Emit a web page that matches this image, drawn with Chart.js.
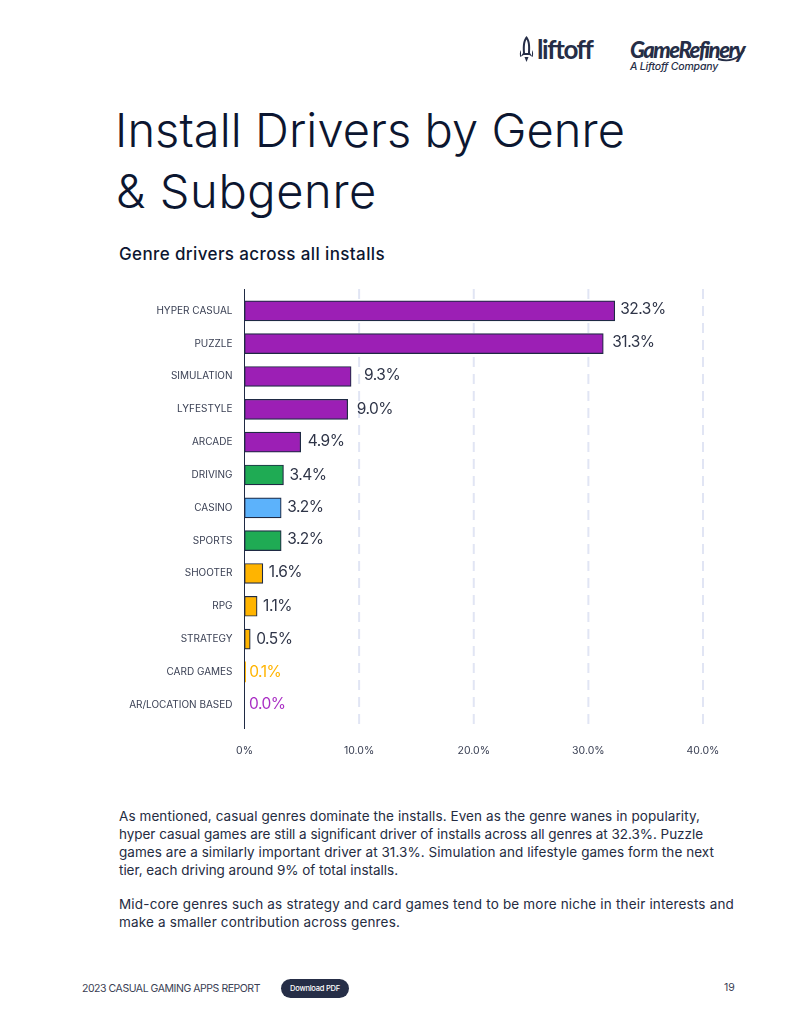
<!DOCTYPE html>
<html>
<head>
<meta charset="utf-8">
<script src="https://cdn.jsdelivr.net/npm/chart.js@4/dist/chart.umd.min.js"></script>
<style>
  html, body { margin: 0; padding: 0; background: #fff; }
  body { width: 800px; height: 1035px; position: relative; overflow: hidden; font-family: Inter, "Noto Sans", sans-serif; color: #252c42; }
  .t { position: absolute; white-space: pre; line-height: 1; }
  #wrap { position: absolute; left: 0; top: 280px; width: 800px; height: 490px; }
  #pill { position: absolute; left: 281px; top: 979px; width: 68px; height: 19px; border-radius: 10px; background: #262e47; }
</style>
</head>
<body>
  <!-- Brand marks in the page header -->
  <svg style="position:absolute;left:518px;top:34px" width="20" height="30" viewBox="0 0 20 30">
    <path d="M8.5 2 C5 6 4.4 11 5 19 L3 22 L3 16 C1.6 18 1.6 21 2.4 23 L5.6 21 L11.4 21 L14.6 23 C15.4 21 15.4 18 14 16 L14 22 L12 19 C12.6 11 12 6 8.5 2 Z M8.5 5.5 C10 8 10.4 12 10 19 L7 19 C6.6 12 7 8 8.5 5.5 Z" fill="#262e47" fill-rule="evenodd"/>
    <path d="M6.5 23 L10.5 23 L8.5 28 Z" fill="#262e47"/>
  </svg>
  <div class="t fit" data-w="54" style="left:537px;top:36px;font-family:Lato,sans-serif;font-size:26px;font-weight:700;color:#262e47">liftoff</div>
  <div class="t fit" data-w="114" style="left:630px;top:39px;font-family:Lato,sans-serif;font-size:22px;font-weight:900;font-style:italic;color:#262e47">GameRefinery</div>
  <svg style="position:absolute;left:700px;top:46px" width="50" height="20" viewBox="0 0 50 20">
    <path d="M18 13 C28 16 38 14 44 4" stroke="#262e47" stroke-width="2" fill="none"/>
  </svg>
  <div class="t fit" data-w="88" style="left:630px;top:62px;font-size:10.5px;font-weight:500;font-style:italic;color:#262e47">A Liftoff Company</div>

  <!-- Headline block -->
  <div class="t fit" data-w="510" style="left:115px;top:106px;font-size:47px;font-weight:350;color:#0c1630">Install Drivers by Genre</div>
  <div class="t fit" data-w="261" style="left:116px;top:167px;font-size:47px;font-weight:350;color:#0c1630">&amp; Subgenre</div>
  <div class="t fit" data-w="266" style="left:119px;top:246px;font-size:17px;font-weight:500;color:#0c1630">Genre drivers across all installs</div>

  <div id="wrap"><canvas id="chart" width="800" height="490"></canvas></div>

  <!-- Commentary -->
  <div class="t fit" data-w="581" style="left:119px;top:810px;font-size:13.5px;">As mentioned, casual genres dominate the installs. Even as the genre wanes in popularity,</div>
  <div class="t fit" data-w="584" style="left:119px;top:828px;font-size:13.5px;">hyper casual games are still a significant driver of installs across all genres at 32.3%. Puzzle</div>
  <div class="t fit" data-w="595" style="left:119px;top:846px;font-size:13.5px;">games are a similarly important driver at 31.3%. Simulation and lifestyle games form the next</div>
  <div class="t fit" data-w="279" style="left:119px;top:864px;font-size:13.5px;">tier, each driving around 9% of total installs.</div>
  <div class="t fit" data-w="615" style="left:119px;top:898px;font-size:13.5px;">Mid-core genres such as strategy and card games tend to be more niche in their interests and</div>
  <div class="t fit" data-w="281" style="left:119px;top:916px;font-size:13.5px;">make a smaller contribution across genres.</div>

  <!-- Footer strip -->
  <div class="t fit" data-w="178" style="left:82px;top:984px;font-size:10.5px;color:#3a4054">2023 CASUAL GAMING APPS REPORT</div>
  <div id="pill"></div>
  <div class="t fit" data-w="50" style="left:290px;top:985px;font-size:7.5px;font-weight:500;color:#fff">Download PDF</div>
  <div class="t" style="left:724px;top:983px;font-size:10.5px;color:#3a4054">19</div>

<script>
// Install share per genre, in percent
const genres = ['HYPER CASUAL','PUZZLE','SIMULATION','LYFESTYLE','ARCADE','DRIVING','CASINO','SPORTS','SHOOTER','RPG','STRATEGY','CARD GAMES','AR/LOCATION BASED'];
const shares = [32.3, 31.3, 9.3, 9.0, 4.9, 3.4, 3.2, 3.2, 1.6, 1.1, 0.5, 0.1, 0.0];
const axisTicks = [0, 10, 20, 30, 40];
const axisTickLabels = ['0%', '10.0%', '20.0%', '30.0%', '40.0%'];

// Colour groups
const PURPLE = '#9c1fb5', GREEN = '#1fab54', BLUE = '#5cb2fb', AMBER = '#ffb400';
const barColors = [PURPLE, PURPLE, PURPLE, PURPLE, PURPLE, GREEN, BLUE, GREEN, AMBER, AMBER, AMBER, AMBER, PURPLE];
const labelColors = genres.map((_, i) => i === 11 ? '#ffb400' : i === 12 ? '#a92ec4' : '#2f3548');
// Hand placement of the value labels beside each bar
const labelGap = [5.5, 9, 13, 9, 7, 6, 6, 6, 6, 6, 6, 3.5, 4.5];
const labelLift = [1, 1, 1, 0, 1, 0, 0, 1, 1, 0, 0, 0, 0];

const INK = '#1f2a44';
const GRID = '#e1e5f4';

// Stretches each text run to its set width with letter spacing
function fitRuns() {
  document.querySelectorAll('.fit').forEach(el => {
    const target = +el.dataset.w;
    el.style.letterSpacing = '0px';
    const w = el.getBoundingClientRect().width;
    el.style.letterSpacing = ((target - w) / el.textContent.length) + 'px';
  });
}
fitRuns();

// Axis rule and dashed guides run a little past the band of bars
const guides = {
  id: 'guides',
  beforeDatasetsDraw(chart) {
    const { ctx, scales: { x } } = chart;
    const top = 9, bottom = 449;
    ctx.save();
    ctx.strokeStyle = GRID;
    ctx.lineWidth = 2;
    ctx.setLineDash([10, 7]);
    axisTicks.slice(1).forEach(v => {
      const px = x.getPixelForValue(v);
      ctx.beginPath(); ctx.moveTo(px, top); ctx.lineTo(px, bottom); ctx.stroke();
    });
    ctx.restore();
  },
  afterDatasetsDraw(chart) {
    const { ctx, scales: { x, y } } = chart;
    ctx.save();
    ctx.strokeStyle = INK;
    ctx.lineWidth = 1;
    const px = Math.round(x.getPixelForValue(0)) - 0.5;
    ctx.beginPath(); ctx.moveTo(px, 9); ctx.lineTo(px, 449); ctx.stroke();
    ctx.font = '400 15.5px Inter, sans-serif';
    ctx.letterSpacing = '-0.5px';
    ctx.textBaseline = 'middle';
    ctx.textAlign = 'left';
    shares.forEach((v, i) => {
      ctx.fillStyle = labelColors[i];
      ctx.fillText(v.toFixed(1) + '%', x.getPixelForValue(v) + labelGap[i], y.getPixelForValue(i) - labelLift[i]);
    });
    ctx.restore();
  }
};

new Chart(document.getElementById('chart'), {
  type: 'bar',
  data: {
    labels: genres,
    datasets: [{
      data: shares,
      backgroundColor: barColors,
      borderColor: INK,
      borderWidth: ctx => ctx.raw < 0.2 ? 0 : 1.2,
      borderSkipped: false,
      barThickness: 20
    }]
  },
  plugins: [guides],
  options: {
    indexAxis: 'y',
    responsive: false,
    animation: false,
    layout: { padding: { top: 14.4, right: 97, bottom: 0, left: 0 } },
    plugins: { legend: { display: false }, tooltip: { enabled: false } },
    scales: {
      x: {
        type: 'linear',
        min: 0,
        max: 40,
        afterFit: s => { s.height = 48.8; s.paddingLeft = 0; s.paddingRight = 0; },
        afterBuildTicks: s => { s.ticks = axisTicks.map(value => ({ value })); },
        border: { display: false },
        grid: { display: false },
        ticks: {
          padding: 15,
          maxRotation: 0,
          autoSkip: false,
          color: '#3a4054',
          font: { family: 'Inter, sans-serif', size: 10.5 },
          callback: (v) => axisTickLabels[axisTicks.indexOf(v)]
        }
      },
      y: {
        type: 'category',
        afterFit: s => { s.width = 244.5; s.paddingTop = 0; s.paddingBottom = 0; },
        border: { display: false },
        grid: { display: false, drawTicks: false },
        ticks: {
          padding: 12,
          autoSkip: false,
          color: '#3a4054',
          font: { family: 'Inter, sans-serif', size: 10 }
        }
      }
    }
  }
});
</script>
</body>
</html>
